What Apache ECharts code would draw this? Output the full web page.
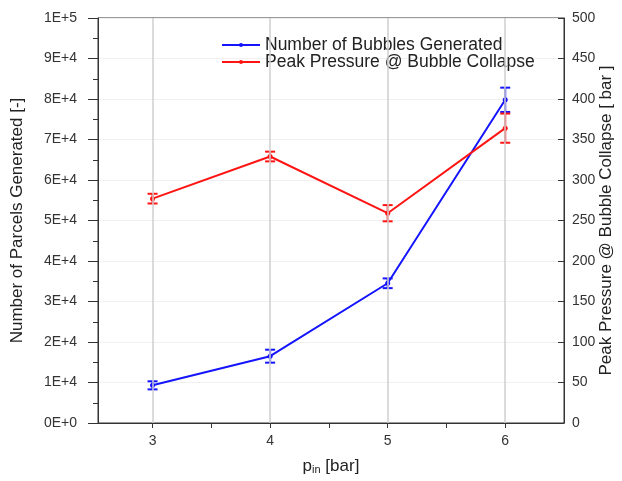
<!DOCTYPE html>
<html>
<head>
<meta charset="utf-8">
<script src="https://cdn.jsdelivr.net/npm/echarts@6/dist/echarts.min.js"></script>
<style>html,body{margin:0;padding:0;background:#fff}#c{width:622px;height:481px}</style>
</head>
<body>
<div id="c"></div>
<script>
var pin = [3, 4, 5, 6];
var bubbles = [9300, 16500, 34500, 79800];
var bubblesErr = [1000, 1600, 1200, 3000];
var pressure = [277, 329, 259, 364];
var pressureErr = [6, 6, 10, 18];
var xTickLabels = [3, 4, 5, 6];
var xTicks = [3, 3.5, 4, 4.5, 5, 5.5, 6];
var gridX = [3, 4, 5, 6];
var seriesNames = ['Number of Bubbles Generated', 'Peak Pressure @ Bubble Collapse'];

var blue = '#1414ff', red = '#ff1414';
var font = 'Liberation Sans, Arial, sans-serif';

function errData(vals, errs) {
  return pin.map(function (x, i) { return [x, vals[i] - errs[i], vals[i] + errs[i]]; });
}
function errRender(color) {
  return function (params, api) {
    var x = api.value(0);
    var lo = api.coord([x, api.value(1)]);
    var hi = api.coord([x, api.value(2)]);
    var w = 5;
    var st = { stroke: color, lineWidth: 2 };
    return { type: 'group', children: [
      { type: 'line', shape: { x1: lo[0], y1: lo[1], x2: hi[0], y2: hi[1] }, style: st },
      { type: 'line', shape: { x1: lo[0] - w, y1: lo[1], x2: lo[0] + w, y2: lo[1] }, style: st },
      { type: 'line', shape: { x1: hi[0] - w, y1: hi[1], x2: hi[0] + w, y2: hi[1] }, style: st }
    ]};
  };
}
function sci(v) {
  if (v === 0) return '0E+0';
  var e = Math.floor(Math.log10(v) + 1e-9);
  return Math.round(v / Math.pow(10, e)) + 'E+' + e;
}

var chart = echarts.init(document.getElementById('c'));
chart.setOption({
  animation: false,
  textStyle: { fontFamily: font },
  grid: { left: 98, right: 58, top: 18, bottom: 58, show: true, borderColor: '#333', borderWidth: 1, outerBoundsMode: 'none', containLabel: false },
  legend: {
    orient: 'vertical', left: 216, top: 31, itemWidth: 38, itemHeight: 5, itemGap: -1,
    textStyle: { fontSize: 17.5, color: '#222', fontFamily: font },
    data: seriesNames
  },
  xAxis: {
    type: 'value', min: 2.536, max: 6.5,
    name: 'p{sub|in} [bar]', nameLocation: 'middle', nameGap: 34,
    nameTextStyle: { fontSize: 17, color: '#222', rich: { sub: { fontSize: 11, verticalAlign: 'bottom', padding: [7, 0, 0, 0] } } },
    axisLine: { lineStyle: { color: '#333' } },
    axisTick: { inside: false, length: 5, lineStyle: { color: '#333' }, customValues: xTicks },
    axisLabel: { fontSize: 14, color: '#333', margin: 11, customValues: xTickLabels },
    splitLine: { show: false }
  },
  yAxis: [{
    type: 'value', min: 0, max: 100000, interval: 10000, position: 'left',
    name: 'Number of Parcels Generated [-]', nameLocation: 'middle', nameGap: 72,
    nameTextStyle: { fontSize: 17, color: '#222' },
    axisLine: { show: true, lineStyle: { color: '#333' } },
    axisTick: { show: true, length: 10, lineStyle: { color: '#333' } },
    minorTick: { show: true, splitNumber: 2, length: 5, lineStyle: { color: '#333' } },
    axisLabel: { fontSize: 14, color: '#333', margin: 21, formatter: sci },
    splitLine: { show: true, lineStyle: { color: '#f0f0f0' } }
  }, {
    type: 'value', min: 0, max: 500, interval: 50, position: 'right',
    name: 'Peak Pressure @ Bubble Collapse [ bar ]', nameLocation: 'middle', nameGap: 34, nameRotate: 90, nameMoveOverlap: false,
    nameTextStyle: { fontSize: 17, color: '#222' },
    axisLine: { show: true, lineStyle: { color: '#333' } },
    axisTick: { show: true, inside: true, length: 6, lineStyle: { color: '#333' } },
    axisLabel: { fontSize: 14, color: '#333', margin: 8 },
    splitLine: { show: false }
  }],
  series: [{
    name: 'gridlines', type: 'line', data: [], silent: true,
    markLine: { silent: true, symbol: 'none', label: { show: false },
      lineStyle: { color: '#cfcfcf', width: 1.5, type: 'solid' },
      data: gridX.map(function (x) { return { xAxis: x }; }) }
  }, {
    name: seriesNames[0], type: 'line', yAxisIndex: 0, color: blue,
    data: pin.map(function (x, i) { return [x, bubbles[i]]; }),
    symbol: 'circle', symbolSize: 5, lineStyle: { width: 2, color: blue }, itemStyle: { color: blue }, z: 3
  }, {
    name: seriesNames[1], type: 'line', yAxisIndex: 1, color: red,
    data: pin.map(function (x, i) { return [x, pressure[i]]; }),
    symbol: 'circle', symbolSize: 5, lineStyle: { width: 2, color: red }, itemStyle: { color: red }, z: 3
  }, {
    type: 'custom', yAxisIndex: 0, renderItem: errRender(blue), data: errData(bubbles, bubblesErr), z: 4, silent: true
  }, {
    type: 'custom', yAxisIndex: 1, renderItem: errRender(red), data: errData(pressure, pressureErr), z: 4, silent: true
  }]
});
</script>
</body>
</html>
